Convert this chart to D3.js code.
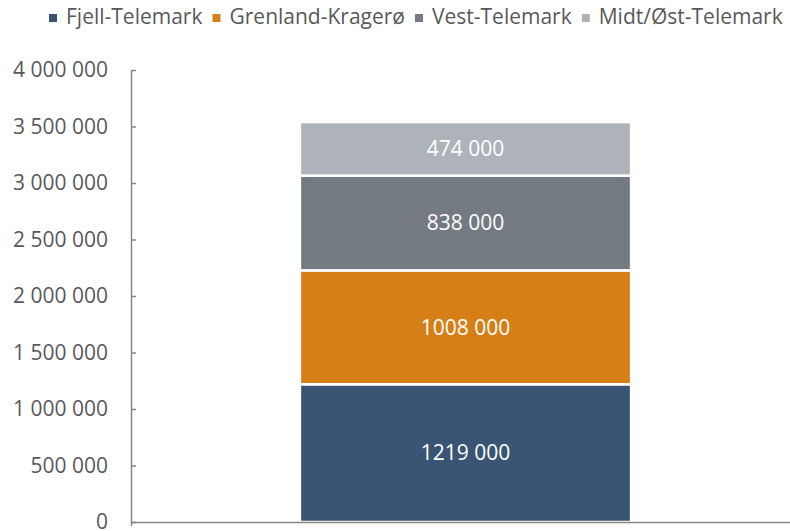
<!DOCTYPE html>
<html>
<head>
<meta charset="utf-8">
<script src="https://cdn.jsdelivr.net/npm/d3@7"></script>
<style>
  body { margin: 0; background: #fff; }
  text { font-family: "Open Sans", sans-serif; }
</style>
</head>
<body>
<svg id="chart"></svg>
<script>
// data
var regions = ["Fjell-Telemark", "Grenland-Kragerø", "Vest-Telemark", "Midt/Øst-Telemark"];
var values = [1219000, 1008000, 838000, 474000];
var colors = ["#3A5573", "#D77F17", "#737A82", "#ADB3B9"];
var yTicks = [0, 500000, 1000000, 1500000, 2000000, 2500000, 3000000, 3500000, 4000000];
var category = ["Telemark"];

var width = 790, height = 531;
var margin = {top: 70, right: -10, bottom: 9, left: 131};
var innerW = width - margin.left - margin.right;
var innerH = height - margin.top - margin.bottom;
var fontSize = "21px";

var svg = d3.select("#chart")
    .attr("width", width)
    .attr("height", height);

var g = svg.append("g")
    .attr("transform", "translate(" + margin.left + "," + margin.top + ")");

var x = d3.scaleBand()
    .domain(category)
    .range([0, innerW])
    .paddingInner(0.5)
    .paddingOuter(0.255);

var y = d3.scaleLinear()
    .domain([0, 4000000])
    .range([innerH, 0]);

// number format with space as thousands separator
var fmt = d3.formatLocale({decimal: ",", thousands: " ", grouping: [3], currency: ["", ""]}).format(",d");
// data labels: thousands written as "1219 000", like the picture
var labelFmt = function(v) {
    return Math.round(v / 1000) + " 000";
};

// y axis, ticks point inwards
var yAxis = g.append("g")
    .attr("class", "axis y-axis")
    .call(d3.axisLeft(y).tickValues(yTicks).tickSize(-5).tickSizeOuter(0).tickFormat(fmt));
yAxis.select(".domain").attr("stroke", "#868686").attr("stroke-width", 1.5);
yAxis.selectAll(".tick line").attr("stroke", "#868686").attr("stroke-width", 1.5);
yAxis.selectAll(".tick text")
    .attr("x", -23)
    .attr("fill", "#595959")
    .style("font-size", fontSize);

// stacked segments
var stack = [];
var acc = 0;
values.forEach(function(v, i) {
    stack.push({name: regions[i], value: v, y0: acc, y1: acc + v, color: colors[i]});
    acc += v;
});

var seg = g.selectAll(".seg")
    .data(stack)
    .enter().append("g")
    .attr("class", "seg");

seg.append("rect")
    .attr("x", x(category[0]))
    .attr("width", x.bandwidth())
    .attr("y", function(d) { return y(d.y1); })
    .attr("height", function(d) { return y(d.y0) - y(d.y1); })
    .attr("fill", function(d) { return d.color; })
    .attr("stroke", "#fff")
    .attr("stroke-width", 2.5);

seg.append("text")
    .attr("x", x(category[0]) + x.bandwidth() / 2)
    .attr("y", function(d) { return (y(d.y0) + y(d.y1)) / 2; })
    .attr("dy", "0.35em")
    .attr("text-anchor", "middle")
    .attr("fill", "#fff")
    .style("font-size", fontSize)
    .text(function(d) { return labelFmt(d.value); });

// x axis
var xAxis = g.append("g")
    .attr("class", "axis x-axis")
    .attr("transform", "translate(0," + innerH + ")")
    .call(d3.axisBottom(x).tickSize(0).tickSizeOuter(4).tickFormat(""));
xAxis.select(".domain").attr("stroke", "#868686").attr("stroke-width", 1.5);

// legend
var legend = svg.append("g").attr("class", "legend");
var lx = 49;
regions.forEach(function(name, i) {
    var item = legend.append("g").attr("transform", "translate(" + lx + ",0)");
    item.append("rect")
        .attr("x", 0)
        .attr("y", 14)
        .attr("width", 8)
        .attr("height", 8)
        .attr("fill", colors[i]);
    var t = item.append("text")
        .attr("x", 17)
        .attr("y", 17)
        .attr("dy", "0.35em")
        .attr("fill", "#595959")
        .style("font-size", fontSize)
        .text(name);
    lx += 17 + t.node().getComputedTextLength() + 10;
});
</script>
</body>
</html>
